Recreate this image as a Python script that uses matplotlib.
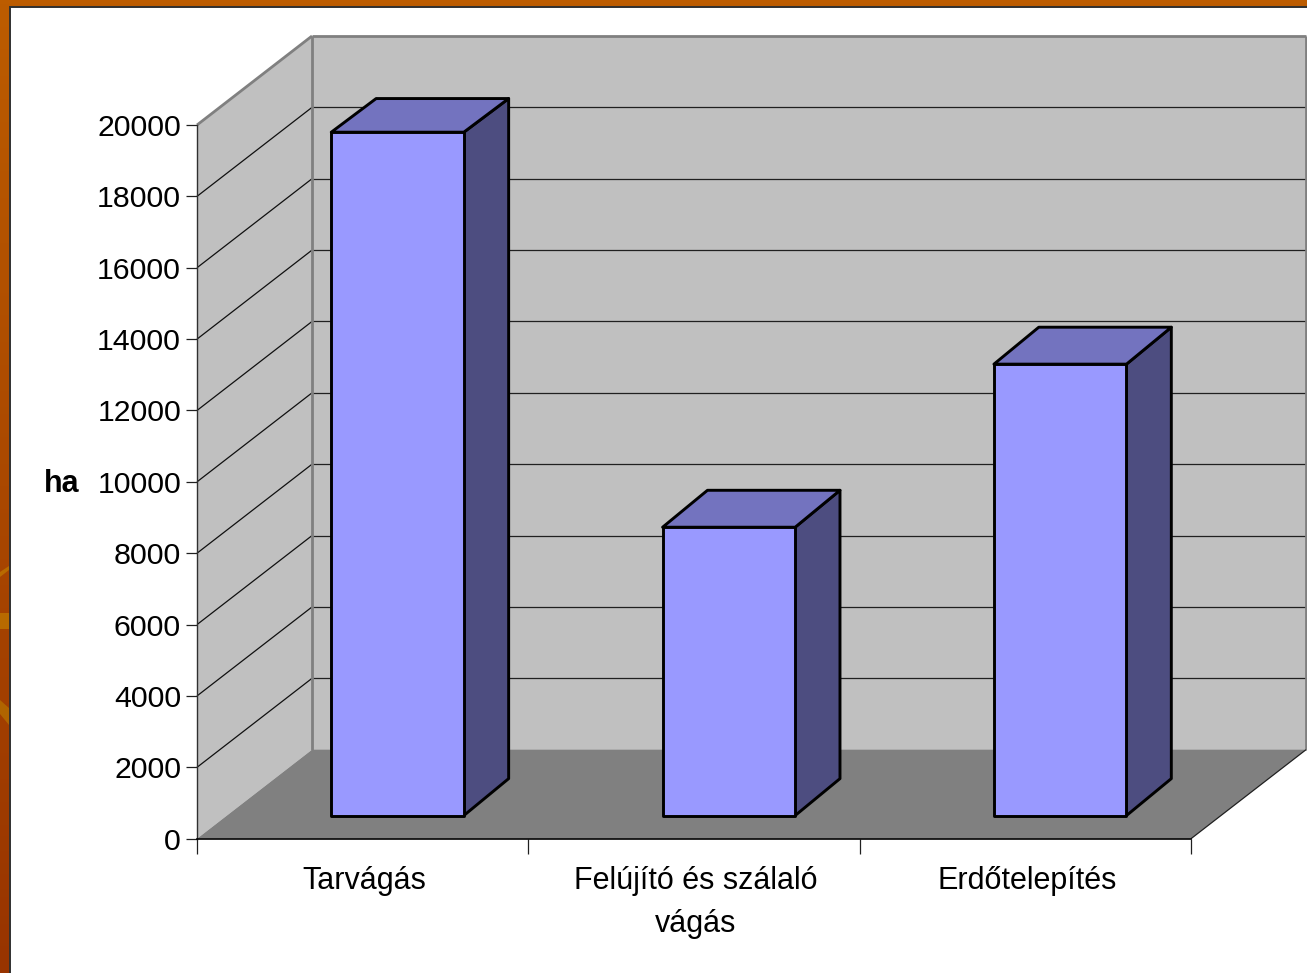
import numpy as np
import matplotlib
matplotlib.use("Agg")
import matplotlib.pyplot as plt
from matplotlib.patches import Polygon, Rectangle
from matplotlib.transforms import ScaledTranslation

plt.rcParams['font.family'] = ['Liberation Sans', 'DejaVu Sans']

categories = ["Tarvágás", "Felújító és szálaló\nvágás", "Erdőtelepítés"]
values = [19150, 8080, 12650]
y_ticks = [0, 2000, 4000, 6000, 8000, 10000, 12000, 14000, 16000, 18000, 20000]
y_label = "ha"

W, H = 1307, 973
fig = plt.figure(figsize=(W / 100, H / 100), dpi=100)

# slide backdrop
bg = fig.add_axes([0, 0, 1, 1], zorder=0)
bg.set_xlim(0, W); bg.set_ylim(H, 0); bg.axis("off")
top_c = np.array([0xBC, 0x5C, 0x00]) / 255
bot_c = np.array([0x98, 0x34, 0x00]) / 255
t = np.linspace(0, 1, 256)[:, None, None]
bg.imshow(top_c[None, None, :] * (1 - t) + bot_c[None, None, :] * t,
          extent=[0, W, H, 0], aspect="auto")
bg.add_patch(Polygon([[0, 613], [9, 613], [9, 629], [0, 629]], fc="#B86A00", ec="none"))
bg.add_patch(Polygon([[0, 700], [9, 708], [9, 725], [0, 714]], fc="#B06400", ec="none"))
bg.add_patch(Polygon([[0, 572], [9, 566], [9, 570], [0, 577]], fc="#B86A00", ec="none"))
bg.add_patch(Rectangle((10, 6.5), W, H, fc="white", ec="#303030", lw=1.4))

# front plane of the 3D box
L, R, B, T = 197, 1191, 838.7, 125
ax = fig.add_axes([L / W, 1 - B / H, (R - L) / W, (B - T) / H], zorder=1)
ax.set_xlim(0, 3)
ax.set_ylim(0, 20000)
ax.patch.set_visible(False)

DX = 115 / ((R - L) / 3)          # depth, in x units
DY = 89 / ((B - T) / 20000)       # depth, in y units


def P(x, y, dx=0.0, dy=None):
    dy = dx if dy is None else dy
    return (x + dx * DX, y + dy * DY)


def poly(pts, **kw):
    p = Polygon(pts, closed=True, clip_on=False, **kw)
    ax.add_patch(p)
    return p


def line(a, b, **kw):
    ax.plot([a[0], b[0]], [a[1], b[1]], clip_on=False, solid_capstyle="butt", **kw)


YMAX = y_ticks[-1]
poly([P(0, 0, 1), P(3, 0, 1), P(3, YMAX, 1), P(0, YMAX, 1)], fc="#C0C0C0", ec="none", zorder=1)
poly([P(0, 0), P(0, 0, 1), P(0, YMAX, 1), P(0, YMAX)], fc="#C0C0C0", ec="none", zorder=1)
poly([P(0, 0), P(3, 0), P(3, 0, 1), P(0, 0, 1)], fc="#808080", ec="none", zorder=2)

for v in y_ticks[1:-1]:
    line(P(0, v), P(0, v, 1), color="#101010", lw=0.9, zorder=3)
    line(P(0, v, 1), P(3, v, 1), color="#202020", lw=0.9, zorder=3)

wall = dict(color="#808080", lw=2.0, zorder=4)
line(P(0, YMAX), P(0, YMAX, 1), **wall)
line(P(0, YMAX, 1), P(3, YMAX, 1), **wall)
line(P(0, 0, 1), P(0, YMAX, 1), **wall)
line(P(3, 0, 1), P(3, YMAX, 1), **wall)
line(P(3, 0), P(3, 0, 1), color="#202020", lw=0.9, zorder=4)

# bars
BAR_W, D0, D1 = 0.40, 0.26, 0.65
D1_Y = 0.675
TOP_D1_Y = [0.638, 0.675, 0.675]
edge = dict(ec="black", lw=2.1, joinstyle="round", zorder=5)
for i, v in enumerate(values):
    x0 = i + 0.515 - BAR_W / 2
    x1 = x0 + BAR_W
    ty = TOP_D1_Y[i]
    poly([P(x1, 0, D0), P(x1, 0, D1, D1_Y), P(x1, v, D1, ty), P(x1, v, D0)], fc="#4D4D80", **edge)
    poly([P(x0, v, D0), P(x1, v, D0), P(x1, v, D1, ty), P(x0, v, D1, ty)], fc="#7373BF", **edge)
    poly([P(x0, 0, D0), P(x1, 0, D0), P(x1, v, D0), P(x0, v, D0)], fc="#9999FF", **edge)

# axes furniture
for s in ("top", "right"):
    ax.spines[s].set_visible(False)
ax.spines["left"].set_color("#303030")
ax.spines["left"].set_linewidth(1.0)
ax.spines["bottom"].set_color("black")
ax.spines["bottom"].set_linewidth(1.2)
ax.spines["left"].set_zorder(4)
ax.spines["bottom"].set_zorder(4)

FS = 21.8
ax.set_yticks(y_ticks)
ax.set_yticklabels([str(v) for v in y_ticks], fontsize=FS, color="black")
ax.tick_params(axis="y", length=8, width=0.9, color="#202020", pad=3.5)

ax.set_xticks([0, 1, 2, 3])
ax.set_xticklabels([])
ax.tick_params(axis="x", which="major", length=10.5, width=0.9, color="#202020")
ax.set_xticks([0.5, 1.5, 2.5], minor=True)
ax.set_xticklabels(categories, minor=True, fontsize=22, color="black",
                   linespacing=1.56, ha="center", va="top")
ax.tick_params(axis="x", which="minor", length=0, pad=19.5)
shift = ScaledTranslation(2 / 100, 0, fig.dpi_scale_trans)
for lab in ax.get_xticklabels(minor=True):
    lab.set_transform(lab.get_transform() + shift)

fig.text(61.5 / W, 1 - 484 / H, y_label, fontsize=22, fontweight="bold",
         ha="center", va="center", color="black", zorder=6)

fig.savefig("out.png", dpi=100)
